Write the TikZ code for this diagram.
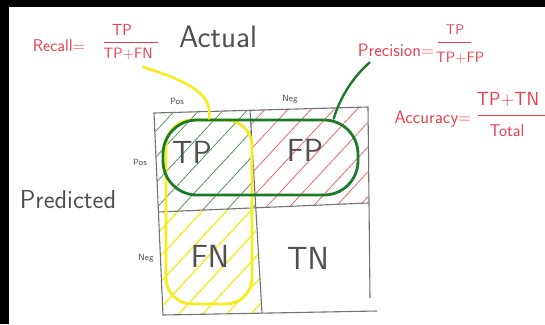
\documentclass[tikz,border=0pt]{standalone}
\usepackage{fontspec}
\definecolor{redtxt}{RGB}{232,62,78}
\definecolor{greenloop}{RGB}{28,122,42}
\definecolor{greenhatch}{RGB}{90,150,95}
\definecolor{redhatch}{RGB}{236,105,105}
\definecolor{yel}{RGB}{246,236,30}
\definecolor{gridgray}{RGB}{115,115,115}
\definecolor{ink}{RGB}{80,80,80}
\tikzset{
  gridline/.style={draw=gridgray, line width=1.1pt},
  redlbl/.style={text=redtxt, inner sep=0pt, font=\sffamily\fontsize{#1}{#1}\selectfont},
  inklbl/.style={text=ink, inner sep=0pt, font=\sffamily\fontsize{#1}{#1}\selectfont},
  fracbar/.style={draw=redtxt, line width=1pt},
  hatchg/.style={draw=greenhatch, line width=0.8pt},
  hatchr/.style={draw=redhatch, line width=0.8pt},
  hatchy/.style={draw=yel, line width=1.3pt},
}
\begin{document}
\begin{tikzpicture}[x=1pt,y=-1pt]
\useasboundingbox (0,0) rectangle (545,324);
\fill[white] (0,0) rectangle (545,324);
\fill[black] (0,0) rectangle (9,324);
\fill[black] (0,0) rectangle (545,7);

% grid coordinates
\coordinate (A) at (154,113);
\coordinate (B) at (250,110);
\coordinate (C) at (368,107);
\coordinate (D) at (158,212);
\coordinate (E) at (255,208);
\coordinate (F) at (368,203);
\coordinate (G) at (163,315);
\coordinate (H) at (262,313);
\coordinate (I) at (377,311);
\coordinate (Cb) at (370,298);

% hatching
\begin{scope}
  \clip (A) -- (B) -- (E) -- (D) -- cycle;
  \foreach \s in {-200,-176,...,300} \draw[hatchg] (\s,230) -- ++(130,-140);
\end{scope}
\begin{scope}
  \clip (B) -- (C) -- (F) -- (E) -- cycle;
  \foreach \s in {-100,-77,...,400} \draw[hatchr] (\s,230) -- ++(130,-140);
\end{scope}
\begin{scope}
  \clip (D) -- (E) -- (H) -- (G) -- cycle;
  \foreach \s in {-100,-76,...,300} \draw[hatchy] (\s,330) -- ++(130,-140);
\end{scope}

% grid lines
\draw[gridline] (A) -- (C) -- (Cb);
\draw[gridline] (A) -- (G) -- (I);
\draw[gridline] (B) -- (H);
\draw[gridline] (D) -- (F);

% axis labels
\node[inklbl=9] (pt) at (177,101) {Pos};
\node[inklbl=9] (nt) at (290,99) {Neg};
\node[inklbl=9] (pl) at (140,162) {Pos};
\node[inklbl=9] (nl) at (146,258) {Neg};
\node[inklbl=31] (act) at (218,37) {Actual};
\node[inklbl=26] (pred) at (68,200) {Predicted};

% loops
\node[draw=yel, line width=2.8pt, rounded corners=26pt, minimum width=86pt, minimum height=184pt, inner sep=0pt] (yloop) at (209,212) {};
\node[draw=greenloop, line width=2.8pt, rounded corners=34pt, minimum width=195pt, minimum height=75pt, inner sep=0pt] (gloop) at (260.5,157.5) {};

% cell labels
\node[inklbl=32] (tp) at (192,152) {TP};
\node[inklbl=32] (fp) at (305,150) {FP};
\node[inklbl=32] (fn) at (210,256) {FN};
\node[inklbl=32] (tn) at (308,258) {TN};

% recall
\node[redlbl=17] (rec) at (59,46) {Recall=};
\node[redlbl=16] (rnum) at (122,30) {TP};
\node[redlbl=15] (rden) at (128,54) {TP+FN};
\coordinate (rb1) at (104,42);
\coordinate (rb2) at (158,42);
\draw[fracbar] (rb1) -- (rb2);

% precision
\node[redlbl=18] (prec) at (396,50) {Precision=};
\node[redlbl=14] (pnum) at (455,30) {TP};
\node[redlbl=15] (pden) at (460,58) {TP+FP};
\coordinate (pb1) at (438,42);
\coordinate (pb2) at (471,42);
\draw[fracbar] (pb1) -- (pb2);

% accuracy
\node[redlbl=18] (acc) at (433,119) {Accuracy=};
\node[redlbl=19] (anum) at (508,100) {TP+TN};
\node[redlbl=17] (aden) at (507,131) {Total};
\coordinate (ab1) at (478,115);
\coordinate (ab2) at (545,115);
\draw[fracbar] (ab1) -- (ab2);

% connectors
\draw[greenloop, line width=2.4pt, line cap=round] (gloop.28) .. controls (340,98) and (352,78) .. ([xshift=12pt,yshift=-6pt]prec.south west);
\draw[yel, line width=2.6pt, line cap=round] (yloop.north) .. controls (211,100) and (204,86) .. ([xshift=15pt,yshift=-7pt]rden.south);
\end{tikzpicture}
\end{document}
